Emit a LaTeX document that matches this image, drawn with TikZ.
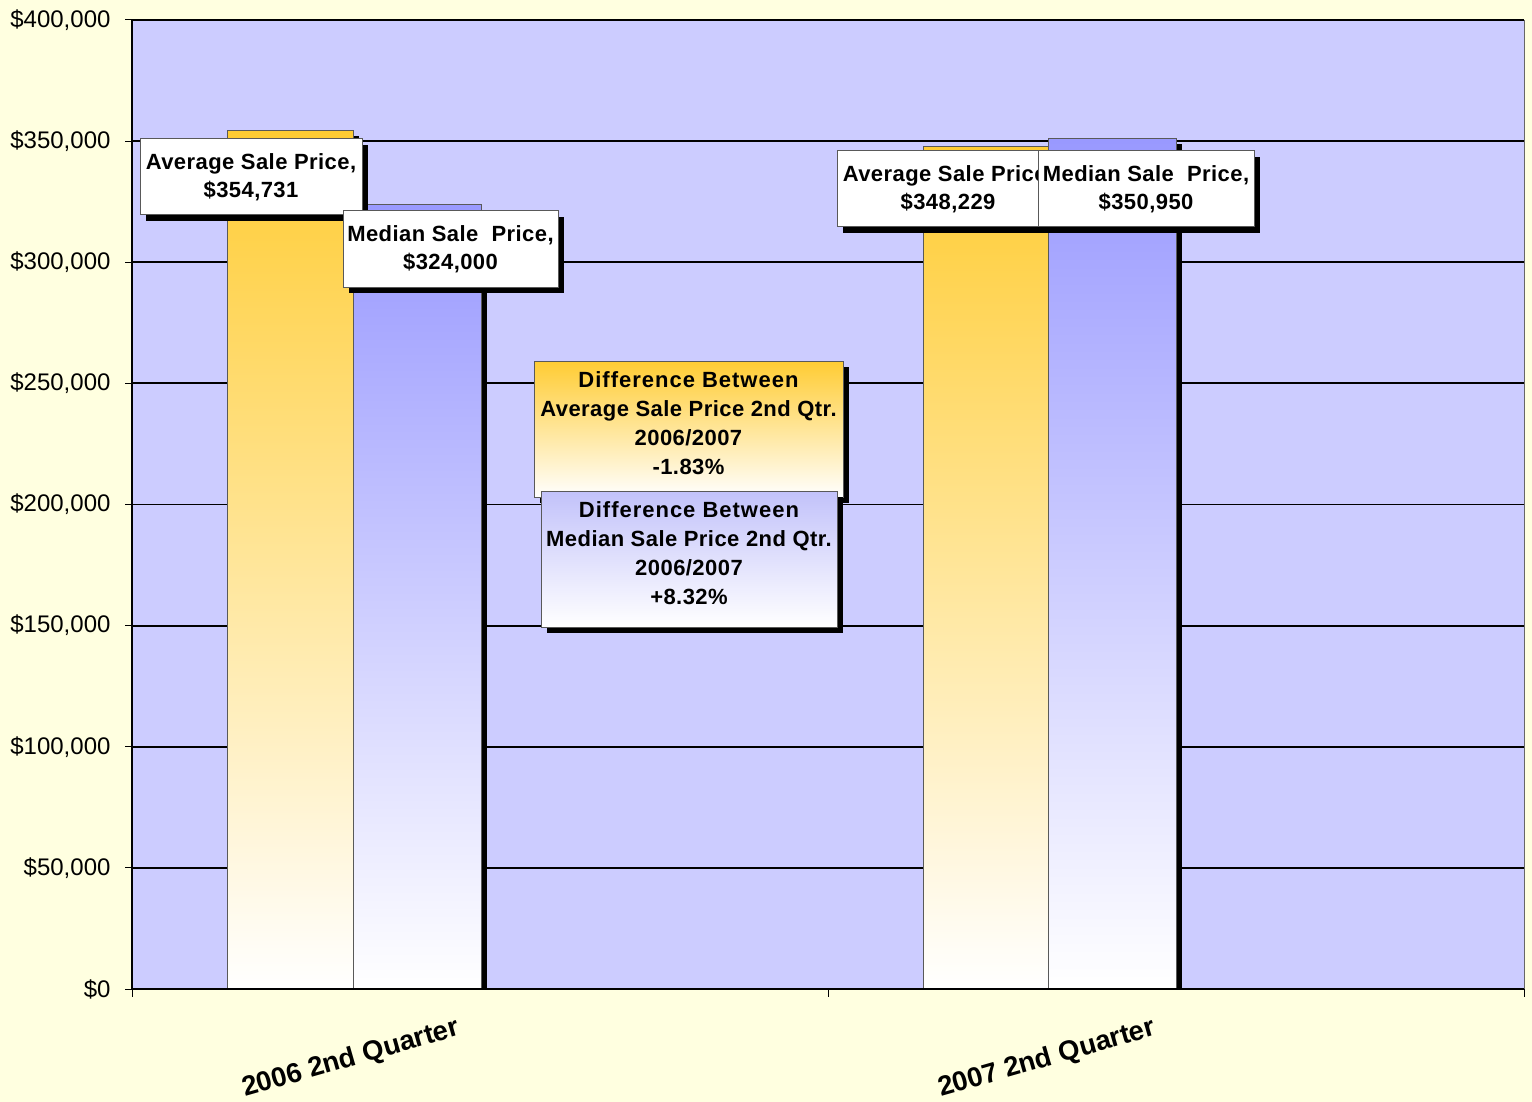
\documentclass[tikz,border=0pt]{standalone}
\usepackage{fontspec}
\setmainfont{Liberation Sans}
\newfontfamily\lblfont[LetterSpace=2]{Liberation Sans}
\newfontfamily\widefont[LetterSpace=4.5]{Liberation Sans}
\usetikzlibrary{shadows}
\definecolor{bgcol}{HTML}{FFFFE0}
\definecolor{plotbg}{HTML}{CCCCFF}
\definecolor{gold}{HTML}{FFCC33}
\definecolor{lav}{HTML}{9999FF}
\definecolor{lavlight}{HTML}{C2C2FA}
\begin{document}
\begin{tikzpicture}[x=1pt,y=-1pt,
  lbox/.style={draw=black!65, line width=1pt, fill=white,
    general shadow={fill=black,shadow xshift=6pt,shadow yshift=-6pt},
    inner sep=0pt, align=center,
    font=\lblfont\bfseries\fontsize{22}{28}\selectfont},
  dbox/.style={lbox, font=\lblfont\bfseries\fontsize{22}{29.3}\selectfont},
  grid/.style={black, line width=1.8pt},
  barline/.style={draw=black!65, line width=1pt},
  barshadow/.style={fill=black},
  ylab/.style={anchor=east, font=\fontsize{24}{28}\selectfont},
  catlab/.style={rotate=16, font=\bfseries\fontsize{27.5}{30}\selectfont}
]
\useasboundingbox (0,0) rectangle (1532,1102);
\fill[bgcol] (0,0) rectangle (1532,1102);
% plot area
\fill[plotbg] (132,20) rectangle (1524,989);
\draw[black!60, line width=1pt] (1524,20) -- (1524,989);
% gridlines, ticks, labels
\foreach \v/\t in {0/{\$0},50/{\$50,000},100/{\$100,000},150/{\$150,000},200/{\$200,000},250/{\$250,000},300/{\$300,000},350/{\$350,000},400/{\$400,000}}{
  \pgfmathsetmacro\yy{989-\v/400*969}
  \draw[grid] (132,\yy) -- (1524,\yy);
  \draw[black, line width=1pt] (125,\yy) -- (132,\yy);
  \node[ylab] (y\v) at (114,\yy) {\t};
}
% bars 2006
\fill[barshadow] (353,136) rectangle (359,989);
\shade[top color=gold, bottom color=white] (227,131) rectangle (353,989);
\draw[barline] (227,131) rectangle (353,989);
\fill[barshadow] (481,210) rectangle (487,989);
\shade[top color=lav, bottom color=white] (353,205) rectangle (481,989);
\draw[barline] (353,205) rectangle (481,989);
% bars 2007
\fill[barshadow] (1048,152) rectangle (1054,989);
\shade[top color=gold, bottom color=white] (923,147) rectangle (1048,989);
\draw[barline] (923,147) rectangle (1048,989);
\fill[barshadow] (1176,144) rectangle (1182,989);
\shade[top color=lav, bottom color=white] (1048,139) rectangle (1176,989);
\draw[barline] (1048,139) rectangle (1176,989);
% axes
\draw[black, line width=2.2pt] (132,20) -- (132,989);
\draw[black, line width=2pt] (132,989) -- (1524,989);
\foreach \xx in {132,828,1524}{
  \draw[black, line width=1pt] (\xx,989) -- (\xx,997);
}
% category labels
\node[catlab] (c2006) at (351,1059) {2006 2nd Quarter};
\node[catlab] (c2007) at (1047,1059) {2007 2nd Quarter};
% data labels
\node[lbox, minimum width=222pt, minimum height=76pt] (b1) at (251,177)
  {Average Sale Price,\\\$354,731};
\node[lbox, minimum width=215pt, minimum height=76pt] (b2) at (450.5,249)
  {Median Sale\ \ Price,\\\$324,000};
\node[lbox, minimum width=222pt, minimum height=76pt] (b3) at (948,189)
  {Average Sale Price,\\\$348,229};
\node[lbox, minimum width=216pt, minimum height=76pt] (b4) at (1146,189)
  {Median Sale\ \ Price,\\\$350,950};
% difference boxes
\node[dbox, top color=gold, bottom color=white, minimum width=309pt, minimum height=136pt] (d1) at (688.5,429)
  {{\widefont Difference Between}\\Average Sale Price 2nd Qtr.\\2006/2007\\-1.83\%\rule[-12pt]{0pt}{0pt}};
\node[dbox, top color=lavlight, bottom color=white, minimum width=296pt, minimum height=136pt] (d2) at (689,559)
  {{\widefont Difference Between}\\Median Sale Price 2nd Qtr.\\2006/2007\\+8.32\%\rule[-12pt]{0pt}{0pt}};
\end{tikzpicture}
\end{document}
